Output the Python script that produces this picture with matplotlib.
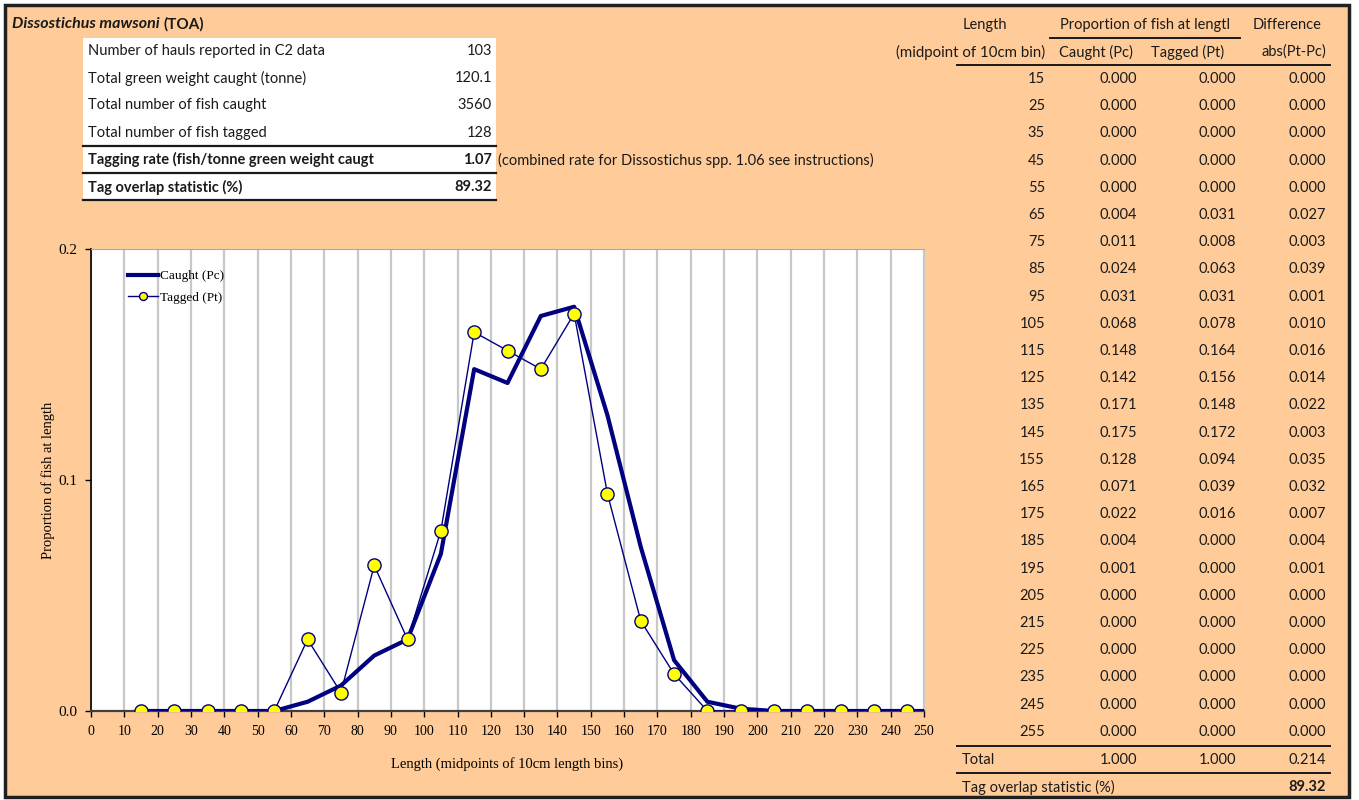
import matplotlib
matplotlib.use('Agg')
import matplotlib.pyplot as plt
from matplotlib.patches import Rectangle

# length bins (midpoints, cm) and proportions
lengths = [15, 25, 35, 45, 55, 65, 75, 85, 95, 105, 115, 125, 135, 145, 155,
           165, 175, 185, 195, 205, 215, 225, 235, 245, 255]
caught = [0.000, 0.000, 0.000, 0.000, 0.000, 0.004, 0.011, 0.024, 0.031, 0.068,
          0.148, 0.142, 0.171, 0.175, 0.128, 0.071, 0.022, 0.004, 0.001, 0.000,
          0.000, 0.000, 0.000, 0.000, 0.000]
tagged = [0.000, 0.000, 0.000, 0.000, 0.000, 0.031, 0.008, 0.063, 0.031, 0.078,
          0.164, 0.156, 0.148, 0.172, 0.094, 0.039, 0.016, 0.000, 0.000, 0.000,
          0.000, 0.000, 0.000, 0.000, 0.000]
difference = [0.000, 0.000, 0.000, 0.000, 0.000, 0.027, 0.003, 0.039, 0.001, 0.010,
              0.016, 0.014, 0.022, 0.003, 0.035, 0.032, 0.007, 0.004, 0.001, 0.000,
              0.000, 0.000, 0.000, 0.000, 0.000]
totals = ['1.000', '1.000', '0.214']
overlap = '89.32'

summary_labels = ['Number of hauls reported in C2 data',
                  'Total green weight caught (tonne)',
                  'Total number of fish caught',
                  'Total number of fish tagged',
                  'Tagging rate (fish/tonne green weight caugt',
                  'Tag overlap statistic (%)']
summary_values = ['103', '120.1', '3560', '128', '1.07', '89.32']

W, H = 1359, 800
PEACH = '#FFCC99'
NAVY = '#000080'
INK = '#1a1a1a'
SANS = ['Lato', 'DejaVu Sans']
SERIF = ['Liberation Serif', 'DejaVu Serif']

fig = plt.figure(figsize=(W / 100, H / 100), dpi=100)
fig.patch.set_facecolor('white')

# background layer in pixel coordinates
bg = fig.add_axes([0, 0, 1, 1], zorder=0)
bg.set_xlim(0, W)
bg.set_ylim(H, 0)
bg.axis('off')
bg.add_patch(Rectangle((5, 5), 1344, 792, facecolor=PEACH, edgecolor='#202020', lw=2.5))

# title + summary table
bg.text(12, 24, 'Dissostichus mawsoni', fontsize=11.5, fontweight='bold', style='italic',
        family=SANS, color=INK, va='center')
bg.text(163, 24, '(TOA)', fontsize=11, fontweight='bold', family=SANS, color=INK, va='center')
bg.add_patch(Rectangle((83, 38), 413, 162, facecolor='white', edgecolor='none'))
for i, (lab, val) in enumerate(zip(summary_labels, summary_values)):
    y = 51 + i * 27.2
    fw = 'bold' if i >= 4 else 'normal'
    bg.text(88, y, lab, fontsize=10.5, family=SANS, color=INK, va='center', fontweight=fw)
    bg.text(492, y, val, fontsize=10.5, family=SANS, color=INK, va='center', ha='right', fontweight=fw)
for y in [146, 173, 200]:
    bg.plot([83, 496], [y, y], color=INK, lw=1.6)
bg.text(498, 160, '(combined rate for Dissostichus spp. 1.06 see instructions)',
        fontsize=10.5, family=SANS, color=INK, va='center')

# right-hand table
col_r = [1045, 1137, 1236, 1326]
bg.text(985, 25, 'Length', fontsize=10.5, family=SANS, color=INK, va='center', ha='center')
bg.text(1145, 25, 'Proportion of fish at lengtl', fontsize=10.5, family=SANS, color=INK,
        va='center', ha='center')
bg.plot([1050, 1240], [38, 38], color=INK, lw=1.4)
bg.text(1287, 25, 'Difference', fontsize=10.5, family=SANS, color=INK, va='center', ha='center')
bg.text(1045, 52, '(midpoint of 10cm bin)', fontsize=10.8, family=SANS, color=INK,
        va='center', ha='right')
bg.text(1133, 52, 'Caught (Pc)', fontsize=10.5, family=SANS, color=INK, va='center', ha='right')
bg.text(1224, 52, 'Tagged (Pt)', fontsize=10.5, family=SANS, color=INK, va='center', ha='right')
bg.text(1326, 52, 'abs(Pt-Pc)', fontsize=10.5, family=SANS, color=INK, va='center', ha='right')
bg.plot([957, 1330], [65, 65], color=INK, lw=1.4)
for i, L in enumerate(lengths):
    y = 79 + i * 27.2
    cells = [str(L), f'{caught[i]:.3f}', f'{tagged[i]:.3f}', f'{difference[i]:.3f}']
    for x, s in zip(col_r, cells):
        bg.text(x, y, s, fontsize=10.5, family=SANS, color=INK, va='center', ha='right')
bg.plot([957, 1330], [746, 746], color=INK, lw=1.4)
bg.text(962, 760, 'Total', fontsize=10.5, family=SANS, color=INK, va='center')
for x, s in zip(col_r[1:], totals):
    bg.text(x, 760, s, fontsize=10.5, family=SANS, color=INK, va='center', ha='right')
bg.plot([957, 1330], [773, 773], color=INK, lw=1.4)
bg.text(962, 787, 'Tag overlap statistic (%)', fontsize=10.5, family=SANS, color=INK, va='center')
bg.text(col_r[3], 787, overlap, fontsize=10.5, family=SANS, color=INK, va='center',
        ha='right', fontweight='bold')

# chart
x0, x1, y0, y1 = 91, 924, 249, 711
ax = fig.add_axes([x0 / W, 1 - y1 / H, (x1 - x0) / W, (y1 - y0) / H], zorder=2)
ax.set_facecolor('white')
ax.plot(lengths, caught, color=NAVY, lw=3, label='Caught (Pc)', zorder=3,
        solid_joinstyle='round')
ax.plot(lengths, tagged, color=NAVY, lw=1, marker='o', ms=9.5, mfc='#FFFF00',
        mec=NAVY, mew=1, label='Tagged (Pt)', zorder=4)
ax.set_xlim(0, 250)
ax.set_ylim(0, 0.2)
ax.set_xticks(range(0, 251, 10))
ax.set_yticks([0, 0.1, 0.2])
ax.set_yticklabels(['0.0', '0.1', '0.2'])
ax.grid(axis='x', color='#C8C8C8', lw=1.6)
ax.set_axisbelow(True)
for lab in ax.get_xticklabels():
    lab.set_family(SERIF)
    lab.set_fontsize(10)
for lab in ax.get_yticklabels():
    lab.set_family(SERIF)
    lab.set_fontsize(11)
ax.tick_params(axis='both', direction='out', length=4, width=1, color='black', pad=6)
ax.spines['left'].set_color('black')
ax.spines['left'].set_linewidth(1.2)
ax.spines['bottom'].set_color('#404040')
ax.spines['bottom'].set_linewidth(1.6)
ax.spines['top'].set_color('#A8A8A8')
ax.spines['right'].set_color('#C8C8C8')
ax.set_xlabel('Length (midpoints of 10cm length bins)', family=SERIF, fontsize=10.5, labelpad=14)
ax.set_ylabel('Proportion of fish at length', family=SERIF, fontsize=10.5, labelpad=2)
ax.legend(loc='upper left', frameon=False, prop={'family': SERIF, 'size': 9.5},
          handlelength=2.3, handletextpad=0.1, bbox_to_anchor=(0.03, 0.98),
          labelspacing=0.7, markerscale=0.6)

fig.savefig('out.png', dpi=100, facecolor=fig.get_facecolor())
